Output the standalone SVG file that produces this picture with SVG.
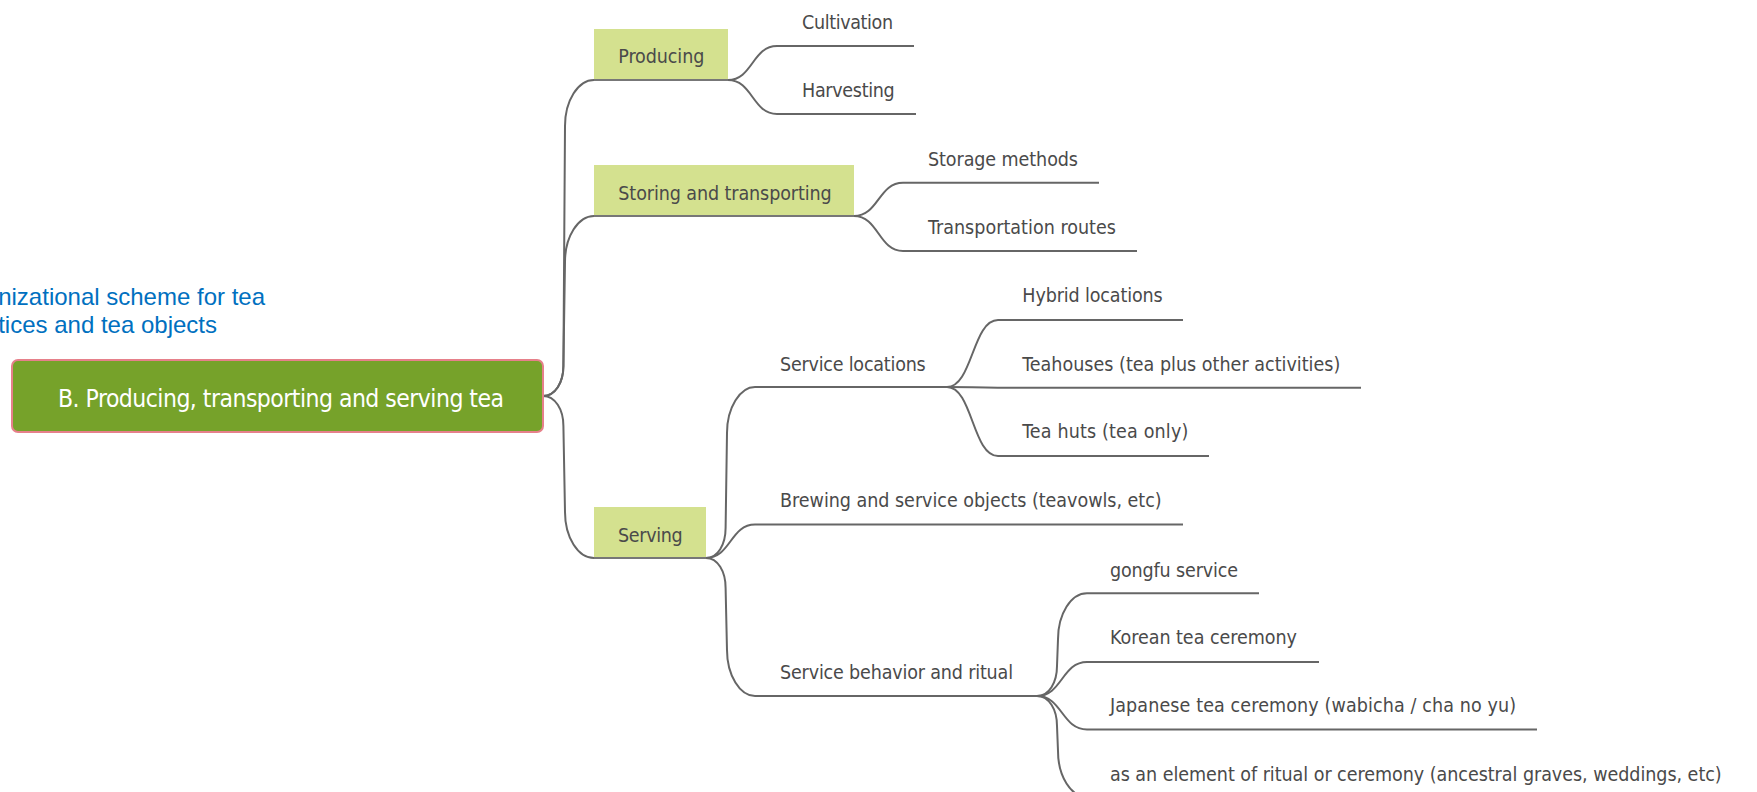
<svg xmlns="http://www.w3.org/2000/svg" width="1757" height="792" viewBox="0 0 1757 792">
<style>
.c{fill:none;stroke:#666;stroke-width:2}
.u{fill:none;stroke:#777;stroke-width:2}
.t{font-family:'DejaVu Sans Condensed','DejaVu Sans',sans-serif;font-stretch:condensed;font-size:19.5px;fill:#4a4a4a}
.m{font-family:'DejaVu Sans Condensed','DejaVu Sans',sans-serif;font-stretch:condensed;font-size:24.5px;fill:#ffffff}
.b{font-family:'Liberation Sans',Arial,sans-serif;font-size:24px;fill:#0070c0}
.box{fill:#d4e18f}
</style>
<rect width="1757" height="792" fill="#ffffff"/>
<g id="title">
<text class="b" x="265" y="305" text-anchor="end">nizational scheme for tea</text>
<text class="b" x="217" y="332.7" text-anchor="end">tices and tea objects</text>
</g>
<g id="connectors">
<path class="c" d="M543,396 C555.2,396 563.4,382.5 563.4,366 L565,126 C565,100.7 578,80 594,80"/>
<path class="c" d="M543,396 C555.2,396 563.4,382.5 563.4,366 L565,262 C565,236.7 578,216 594,216"/>
<path class="c" d="M543,396 C555.2,396 563.4,409.5 563.4,426 L565,512 C565,537.3 578,558 594,558"/>
<path class="c" d="M728,80 C752.5,80 752.5,46 777,46"/>
<path class="c" d="M728,80 C752.5,80 752.5,114 777,114"/>
<path class="c" d="M854,216 C878.5,216 878.5,182.7 903,182.7"/>
<path class="c" d="M854,216 C878.5,216 878.5,251 903,251"/>
<path class="c" d="M706,558 C717.8,558 725.6,544.5 725.6,528 L727,433 C727,407.7 740,387 755,387"/>
<path class="c" d="M706,558 C730.5,558 730.5,524.5 755,524.5"/>
<path class="c" d="M706,558 C717.8,558 725.6,571.5 725.6,588 L727,650 C727,675.3 740,696 755,696"/>
<path class="c" d="M947,387 C972.5,387 972.5,320 998,320"/>
<path class="c" d="M947,387 C970,387 975,387.7 998,387.7"/>
<path class="c" d="M947,387 C972.5,387 972.5,456 998,456"/>
<path class="c" d="M1037,696 C1049,696 1057,682.5 1057,666 L1058,639.3 C1058,614 1071,593.3 1087,593.3"/>
<path class="c" d="M1037,696 C1062,696 1062,662 1087,662"/>
<path class="c" d="M1037,696 C1062,696 1062,729.5 1087,729.5"/>
<path class="c" d="M1037,696 C1049,696 1057,709.5 1057,726 L1058,751 C1058,776.3 1071,797 1087,797"/>
</g>
<g id="root">
<rect x="12" y="360" width="531" height="72" rx="6" fill="#76a22a" stroke="#e6808a" stroke-width="2"/>
<text class="m" x="58" y="407" textLength="446">B. Producing, transporting and serving tea</text>
</g>
<g id="producing">
<rect class="box" x="594" y="29" width="134" height="51"/>
<line class="u" x1="594" y1="80" x2="728" y2="80"/>
<text class="t" x="618.3" y="63.3" textLength="86">Producing</text>
</g>
<g id="storing">
<rect class="box" x="594" y="165" width="260" height="51"/>
<line class="u" x1="594" y1="216" x2="854" y2="216"/>
<text class="t" x="618.3" y="200" textLength="213.4">Storing and transporting</text>
</g>
<g id="serving">
<rect class="box" x="594" y="507" width="112" height="51"/>
<line class="u" x1="594" y1="558" x2="706" y2="558"/>
<text class="t" x="618" y="542" textLength="64.7">Serving</text>
</g>
<g id="cultivation">
<line class="c" x1="777" y1="46" x2="914" y2="46"/>
<text class="t" x="802" y="29.3" textLength="91">Cultivation</text>
</g>
<g id="harvesting">
<line class="c" x1="777" y1="114" x2="916" y2="114"/>
<text class="t" x="802" y="97.3" textLength="92.7">Harvesting</text>
</g>
<g id="storage">
<line class="c" x1="903" y1="182.7" x2="1099" y2="182.7"/>
<text class="t" x="928" y="166" textLength="150">Storage methods</text>
</g>
<g id="transportation">
<line class="c" x1="903" y1="251" x2="1137" y2="251"/>
<text class="t" x="928" y="234" textLength="188">Transportation routes</text>
</g>
<g id="service-locations">
<line class="c" x1="755" y1="387" x2="947" y2="387"/>
<text class="t" x="780" y="370.7" textLength="145.7">Service locations</text>
</g>
<g id="brewing">
<line class="c" x1="755" y1="524.5" x2="1183" y2="524.5"/>
<text class="t" x="780" y="507" textLength="381.7">Brewing and service objects (teavowls, etc)</text>
</g>
<g id="service-behavior">
<line class="c" x1="755" y1="696" x2="1037" y2="696"/>
<text class="t" x="780" y="679" textLength="233">Service behavior and ritual</text>
</g>
<g id="hybrid">
<line class="c" x1="998" y1="320" x2="1183" y2="320"/>
<text class="t" x="1022.3" y="301.7" textLength="140.4">Hybrid locations</text>
</g>
<g id="teahouses">
<line class="c" x1="998" y1="387.7" x2="1361" y2="387.7"/>
<text class="t" x="1022.3" y="370.7" textLength="318">Teahouses (tea plus other activities)</text>
</g>
<g id="tea-huts">
<line class="c" x1="998" y1="456" x2="1209" y2="456"/>
<text class="t" x="1022.3" y="438" textLength="166">Tea huts (tea only)</text>
</g>
<g id="gongfu">
<line class="c" x1="1087" y1="593.3" x2="1259" y2="593.3"/>
<text class="t" x="1110" y="576.7" textLength="128">gongfu service</text>
</g>
<g id="korean">
<line class="c" x1="1087" y1="662" x2="1319" y2="662"/>
<text class="t" x="1110" y="644" textLength="187">Korean tea ceremony</text>
</g>
<g id="japanese">
<line class="c" x1="1087" y1="729.5" x2="1537" y2="729.5"/>
<text class="t" x="1110" y="712.3" textLength="406">Japanese tea ceremony (wabicha / cha no yu)</text>
</g>
<g id="ritual-element">
<line class="c" x1="1087" y1="797" x2="1745" y2="797"/>
<text class="t" x="1110" y="780.7" textLength="611.7">as an element of ritual or ceremony (ancestral graves, weddings, etc)</text>
</g>
</svg>
